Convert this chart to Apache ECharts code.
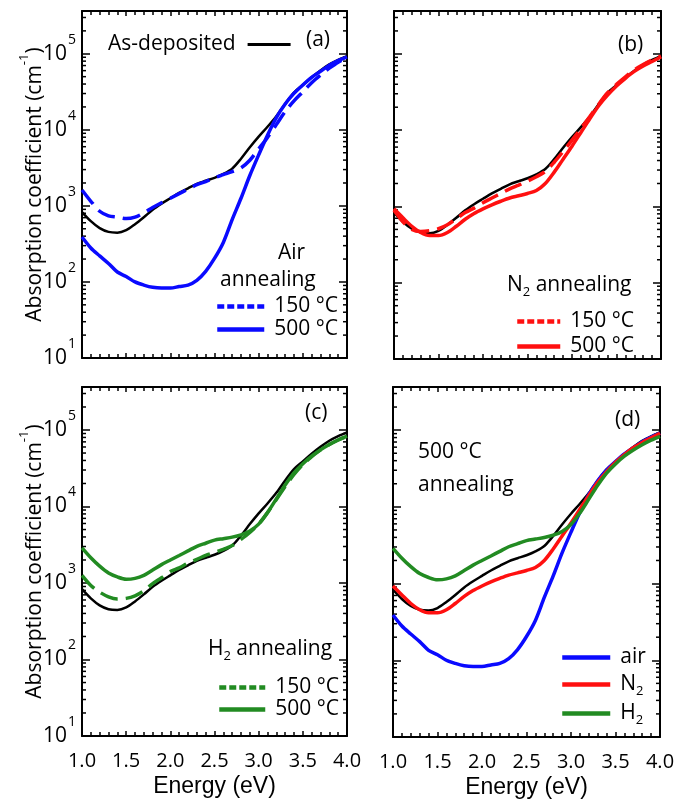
<!DOCTYPE html>
<html>
<head>
<meta charset="utf-8">
<script src="https://cdn.jsdelivr.net/npm/echarts@6/dist/echarts.min.js"></script>
<style>
  html, body { margin: 0; padding: 0; background: #fff; }
  #chart { width: 678px; height: 803px; }
</style>
</head>
<body>
<div id="chart"></div>
<script>
// photon energy (eV), shared by every curve
const energy = [1.0, 1.1, 1.2, 1.3, 1.4, 1.5, 1.6, 1.7, 1.8, 1.9, 2.0, 2.1, 2.2, 2.3, 2.4, 2.5,
  2.6, 2.7, 2.8, 2.9, 3.0, 3.1, 3.2, 3.3, 3.4, 3.5, 3.6, 3.7, 3.8, 3.9, 4.0];

// absorption coefficient (cm^-1)
const asDeposited = [830, 630, 510, 455, 445, 480, 575, 710, 890, 1070, 1260, 1480, 1700, 1950, 2140, 2340,
  2630, 3090, 4170, 5890, 8130, 10960, 15100, 21900, 30900, 38900, 49000, 60300, 72400, 83200, 93300];
const air150 = [1620, 1150, 850, 740, 710, 680, 710, 810, 950, 1100, 1260, 1450, 1660, 1900, 2090, 2340,
  2570, 2820, 3160, 3980, 5620, 7940, 11700, 17400, 24000, 31600, 41700, 52500, 64600, 77600, 89100];
const air500 = [390, 280, 220, 175, 135, 118, 100, 91, 85, 83, 83, 87, 91, 105, 138, 204,
  331, 660, 1260, 2510, 4680, 8510, 14500, 21900, 30200, 38900, 49000, 58900, 70800, 81300, 91200];
const n2_150 = [890, 630, 500, 470, 480, 510, 575, 690, 830, 950, 1120, 1290, 1480, 1700, 1900, 2140,
  2450, 2880, 3800, 5250, 7410, 10500, 15100, 21900, 30900, 39800, 50100, 61700, 72400, 83200, 93300];
const n2_500 = [930, 710, 550, 455, 415, 415, 455, 550, 680, 810, 930, 1050, 1170, 1290, 1380, 1480,
  1620, 2000, 2820, 4170, 6170, 9330, 14100, 20900, 28800, 38000, 47900, 58900, 69200, 79400, 91200];
const h2_150 = [1260, 930, 760, 660, 620, 630, 680, 790, 980, 1170, 1410, 1580, 1820, 2040, 2290, 2510,
  2750, 3090, 3720, 4570, 5890, 8320, 12300, 18200, 26300, 35500, 44700, 55000, 64600, 74100, 83200];
const h2_500 = [2880, 2140, 1660, 1350, 1200, 1120, 1150, 1260, 1480, 1740, 2000, 2290, 2630, 3020, 3310, 3630,
  3800, 3980, 4270, 4790, 5890, 8320, 12600, 19100, 27500, 36300, 45700, 55000, 64600, 74100, 83200];

// y range and log minor tick positions
const yMin = 10;
const yMax = 365000;
const decades = [10, 100, 1000, 10000, 100000];
const minorSteps = [2, 3, 4, 5, 6, 7, 8, 9];

const FONT = '"Open Sans", sans-serif';
const BLUE = '#0a0aff';
const RED = '#ff1010';
const GREEN = '#228b22';

const minorTicks = [];
decades.forEach(d => minorSteps.forEach(m => {
  if (d * m < yMax) minorTicks.push([1, d * m]);
}));

const pairs = vals => energy.map((e, i) => [e, vals[i]]);

const grids = [
  { left: 82, top: 11, width: 265, height: 347 },
  { left: 394, top: 11, width: 267, height: 348 },
  { left: 82, top: 387, width: 265, height: 349 },
  { left: 393, top: 387, width: 267, height: 350 }
];

const xAxes = [];
const yAxes = [];
grids.forEach((g, i) => {
  const bottomRow = i >= 2;
  const leftCol = i % 2 === 0;
  ['bottom', 'top'].forEach(pos => {
    xAxes.push({
      type: 'value', gridIndex: i, position: pos, min: 1, max: 4, interval: 0.5,
      axisLine: { show: true, onZero: false, lineStyle: { color: '#000', width: 2 } },
      axisTick: { show: true, inside: true, length: 5, lineStyle: { color: '#000', width: 1.5 } },
      minorTick: { show: true, splitNumber: 5, length: 4, lineStyle: { color: '#000', width: 1.5 } },
      splitLine: { show: false },
      axisLabel: {
        show: pos === 'bottom' && bottomRow, margin: 15, color: '#000',
        fontFamily: FONT, fontSize: 20, formatter: v => v.toFixed(1)
      },
      name: pos === 'bottom' && bottomRow ? 'Energy (eV)' : '',
      nameLocation: 'middle', nameGap: 39,
      nameTextStyle: { color: '#000', fontFamily: '"Liberation Sans", Arial, sans-serif', fontSize: 23 }
    });
  });
  ['left', 'right'].forEach(pos => {
    yAxes.push({
      type: 'log', logBase: 10, gridIndex: i, position: pos, min: yMin, max: yMax,
      axisLine: { show: true, onZero: false, lineStyle: { color: '#000', width: 2 } },
      axisTick: { show: true, inside: true, length: 8, lineStyle: { color: '#000', width: 1.5 } },
      splitLine: { show: false },
      axisLabel: {
        show: pos === 'left' && leftCol, margin: 6, color: '#000', fontFamily: FONT,
        formatter: v => {
          const l = Math.log10(v);
          const e = Math.round(l);
          if (Math.abs(l - e) > 1e-6) return '';
          return '{b|10}{s|' + e + '}';
        },
        rich: {
          b: { fontSize: 21, lineHeight: 22, fontFamily: FONT, color: '#000' },
          s: { fontSize: 14, lineHeight: 14, fontFamily: FONT, color: '#000', padding: [0, 0, 28, 1] }
        }
      },
      name: pos === 'left' && leftCol ? '{t|Absorption coefficient (cm}{s|-1}{t|)}' : '',
      nameLocation: 'middle', nameGap: 36, nameRotate: 90, nameMoveOverlap: false,
      nameTextStyle: {
        color: '#000', fontFamily: FONT,
        rich: {
          t: { fontSize: 21, lineHeight: 22, fontFamily: FONT, color: '#000' },
          s: { fontSize: 13, lineHeight: 13, fontFamily: FONT, color: '#000', padding: [0, 0, 22, 0] }
        }
      }
    });
  });
});

function line(name, panel, vals, color, dashed, width) {
  return {
    type: 'line', name: name, xAxisIndex: panel * 2, yAxisIndex: panel * 2,
    data: pairs(vals), symbol: 'none', smooth: 0.3, silent: true,
    lineStyle: { color: color, width: width || 3.5, type: dashed ? [18, 8] : 'solid' },
    itemStyle: { color: color }
  };
}

function minorTickSeries(panel) {
  return {
    type: 'custom', xAxisIndex: panel * 2, yAxisIndex: panel * 2, silent: true,
    data: minorTicks, encode: { x: 0, y: 1 },
    renderItem: (params, api) => {
      const v = api.value(1);
      const l = api.coord([1, v]);
      const r = api.coord([4, v]);
      const st = { stroke: '#000', lineWidth: 1.5 };
      return {
        type: 'group', children: [
          { type: 'line', shape: { x1: l[0], y1: l[1], x2: l[0] + 4, y2: l[1] }, style: st },
          { type: 'line', shape: { x1: r[0], y1: r[1], x2: r[0] - 4, y2: r[1] }, style: st }
        ]
      };
    }
  };
}

const series = [
  minorTickSeries(0), minorTickSeries(1), minorTickSeries(2), minorTickSeries(3),
  line('As-deposited', 0, asDeposited, '#000', false, 2.5),
  line('Air 150', 0, air150, BLUE, true),
  line('Air 500', 0, air500, BLUE, false),
  line('As-deposited', 1, asDeposited, '#000', false, 2.5),
  line('N2 150', 1, n2_150, RED, true),
  line('N2 500', 1, n2_500, RED, false),
  line('As-deposited', 2, asDeposited, '#000', false, 2.5),
  line('H2 150', 2, h2_150, GREEN, true),
  line('H2 500', 2, h2_500, GREEN, false),
  line('As-deposited', 3, asDeposited, '#000', false, 2.5),
  line('air', 3, air500, BLUE, false),
  line('N2', 3, n2_500, RED, false),
  line('H2', 3, h2_500, GREEN, false)
];

const legendText = { color: '#000', fontFamily: FONT, fontSize: 21, lineHeight: 23 };
const tempLabel = name => name.split(' ')[1] + ' °C';
const dashIcon = { type: [7, 3], width: 4.5 };
const solidIcon = { type: 'solid', width: 4.5 };
const noSymbol = { opacity: 0 };

function tempLegend(prefix, left, top, w, gap) {
  return {
    orient: 'vertical', left: left, top: top, itemWidth: w, itemHeight: 14, itemGap: gap,
    selectedMode: false, formatter: tempLabel,
    textStyle: Object.assign({ padding: [0, 0, 0, 5] }, legendText),
    data: [
      { name: prefix + ' 150', lineStyle: dashIcon, itemStyle: noSymbol },
      { name: prefix + ' 500', lineStyle: solidIcon, itemStyle: noSymbol }
    ]
  };
}

const legends = [
  {
    left: 103, top: 28, align: 'right', itemWidth: 43, itemHeight: 14, selectedMode: false,
    textStyle: Object.assign({ padding: [0, 7, 0, 0] }, legendText),
    data: [{ name: 'As-deposited', lineStyle: { width: 3 }, itemStyle: noSymbol }]
  },
  tempLegend('Air', 210, 290, 47, 0),
  tempLegend('N2', 510, 305, 43, 2),
  tempLegend('H2', 212, 671, 46, -1),
  {
    orient: 'vertical', left: 555, top: 641, itemWidth: 48, itemHeight: 14, itemGap: 2,
    selectedMode: false,
    textStyle: Object.assign({
      padding: [0, 0, 0, 5],
      rich: {
        n: { fontSize: 21, lineHeight: 23, fontFamily: FONT, color: '#000' },
        s: { fontSize: 13, lineHeight: 13, fontFamily: FONT, color: '#000', padding: [14, 0, 0, 0] }
      }
    }, legendText),
    formatter: name => name === 'air' ? '{n|air}' : '{n|' + name[0] + '}{s|2}',
    data: [
      { name: 'air', lineStyle: solidIcon, itemStyle: noSymbol },
      { name: 'N2', lineStyle: solidIcon, itemStyle: noSymbol },
      { name: 'H2', lineStyle: solidIcon, itemStyle: noSymbol }
    ]
  }
];

const txt = (text, x, y) => ({
  type: 'text', x: x, y: y, z: 100,
  style: {
    text: text, fill: '#000', font: '21px ' + FONT, verticalAlign: 'middle',
    rich: {
      n: { fontSize: 21, lineHeight: 23, fontFamily: FONT, fill: '#000' },
      s: { fontSize: 13, lineHeight: 13, fontFamily: FONT, fill: '#000', padding: [14, 0, 0, 0] }
    }
  }
});

const graphics = [
  txt('(a)', 306, 40),
  txt('(b)', 618, 45),
  txt('(c)', 305, 413),
  txt('(d)', 615, 420),
  txt('Air', 278, 253),
  txt('annealing', 220, 280),
  txt('{n|N}{s|2}{n| annealing}', 507, 285),
  txt('{n|H}{s|2}{n| annealing}', 208, 649),
  txt('500 °C', 418, 452),
  txt('annealing', 418, 485)
];

const chart = echarts.init(document.getElementById('chart'), null, { renderer: 'canvas' });
chart.setOption({
  backgroundColor: '#fff',
  animation: false,
  textStyle: { fontFamily: FONT },
  grid: grids,
  xAxis: xAxes,
  yAxis: yAxes,
  legend: legends,
  graphic: graphics,
  series: series
});
</script>
</body>
</html>
